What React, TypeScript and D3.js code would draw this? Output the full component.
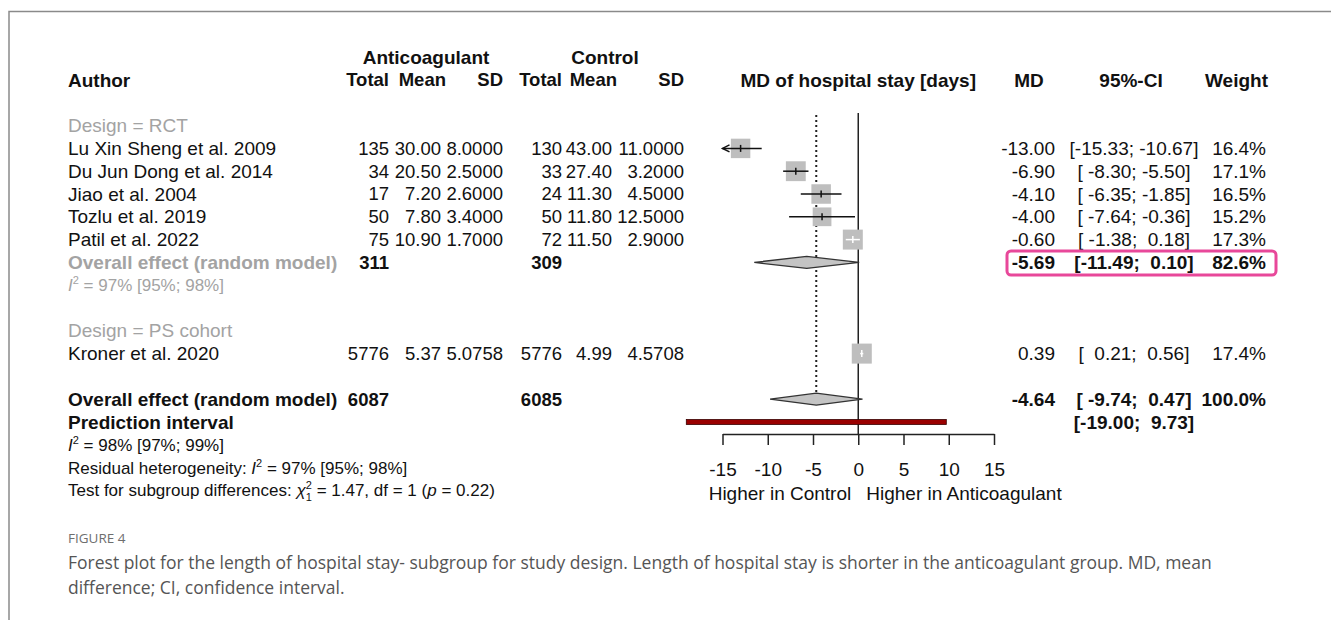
import React, { useRef, useEffect } from 'react';
import * as d3 from 'd3';

// study level data
const studies = [
  'Lu Xin Sheng et al. 2009',
  'Du Jun Dong et al. 2014',
  'Jiao et al. 2004',
  'Tozlu et al. 2019',
  'Patil et al. 2022',
  'Kroner et al. 2020'
];
const studyRows = [3, 4, 5, 6, 7, 12];
const antTotal = [135, 34, 17, 50, 75, 5776];
const antMean = [30.0, 20.5, 7.2, 7.8, 10.9, 5.37];
const antSD = [8.0, 2.5, 2.6, 3.4, 1.7, 5.0758];
const ctlTotal = [130, 33, 24, 50, 72, 5776];
const ctlMean = [43.0, 27.4, 11.3, 11.8, 11.5, 4.99];
const ctlSD = [11.0, 3.2, 4.5, 12.5, 2.9, 4.5708];
const md = [-13.0, -6.9, -4.1, -4.0, -0.6, 0.39];
const ciLow = [-15.33, -8.3, -6.35, -7.64, -1.38, 0.21];
const ciHigh = [-10.67, -5.5, -1.85, -0.36, 0.18, 0.56];
const weight = [16.4, 17.1, 16.5, 15.2, 17.3, 17.4];

// pooled estimates (RCT subgroup, overall)
const pooledRows = [8, 14];
const pooledAntTotal = [311, 6087];
const pooledCtlTotal = [309, 6085];
const pooledMd = [-5.69, -4.64];
const pooledLow = [-11.49, -9.74];
const pooledHigh = [0.1, 0.47];
const pooledWeight = [82.6, 100.0];
const predInterval = [-19.0, 9.73];
const axisTicks = [-15, -10, -5, 0, 5, 10, 15];

const FONT = '"Liberation Sans", Arial, sans-serif';
const GRAY = '#a3a3a3';
const colX = [389, 441, 503, 562, 612, 684];
const TBL = 18.5; // numeric table font size

const fmtCI = (lo: number, hi: number) =>
  '[' + lo.toFixed(2).padStart(6, ' ') + '; ' + hi.toFixed(2).padStart(5, ' ') + ']';

const I2 = ({ x, y, rest, fill }: { x: number; y: number; rest: string; fill: string }) => (
  <text x={x} y={y} dy="0.35em" fontSize={17} fill={fill} xmlSpace="preserve">
    <tspan fontStyle="italic">I</tspan>
    <tspan dy={-7} fontSize={11}>2</tspan>
    <tspan dy={7}>{rest}</tspan>
  </text>
);

export default function App() {
  const axisRef = useRef<SVGGElement>(null);

  const x = d3.scaleLinear().domain([-15, 15]).range([722.5, 994]);
  const y = d3.scaleLinear().domain([0, 18]).range([80, 490.4]);
  const axisY = 434;

  useEffect(() => {
    if (axisRef.current) {
      const g = d3.select(axisRef.current);
      g.selectAll('*').remove();
      g.call(
        d3.axisBottom(x).tickValues(axisTicks).tickSize(11).tickSizeOuter(0).tickPadding(18).tickFormat(d3.format('d'))
      );
      g.select('.domain').attr('stroke', '#222').attr('stroke-width', 1.5);
      g.selectAll('.tick line').attr('stroke', '#222').attr('stroke-width', 1.5);
      g.selectAll('.tick text')
        .attr('font-size', 19)
        .attr('font-family', FONT)
        .attr('fill', '#111')
        .text((d: any) => (d < 0 ? '-' + Math.abs(d) : String(d)));
    }
  }, []);

  const sq = (w: number) => 4.8 * Math.sqrt(w);

  return (
    <svg
      width={1331}
      height={620}
      style={{ position: 'absolute', left: 0, top: 0, background: '#fff' }}
      fontFamily={FONT}
    >
      {/* frame */}
      <path d="M9,620 V11.5 H1331" fill="none" stroke="#8a8a8a" strokeWidth={1.5} />

      {/* header */}
      <g fontWeight="bold" fontSize={19} fill="#111">
        <text x={426} y={57} dy="0.35em" textAnchor="middle">Anticoagulant</text>
        <text x={605} y={57} dy="0.35em" textAnchor="middle">Control</text>
        <text x={68} y={y(0)} dy="0.35em">Author</text>
        {['Total', 'Mean', 'SD', 'Total', 'Mean', 'SD'].map((t, i) => (
          <text key={i} x={colX[i] + (i === 1 || i === 4 ? 5 : 0)} y={y(0)} dy="0.35em" textAnchor="end" fontSize={TBL}>{t}</text>
        ))}
        <text x={x(0)} y={y(0)} dy="0.35em" textAnchor="middle">MD of hospital stay [days]</text>
        <text x={1029} y={y(0)} dy="0.35em" textAnchor="middle">MD</text>
        <text x={1131} y={y(0)} dy="0.35em" textAnchor="middle">95%-CI</text>
        <text x={1268} y={y(0)} dy="0.35em" textAnchor="end">Weight</text>
      </g>

      {/* subgroup labels */}
      <g fontSize={19} fill={GRAY}>
        <text x={68} y={y(2)} dy="0.35em">Design = RCT</text>
        <text x={68} y={y(11)} dy="0.35em">Design = PS cohort</text>
      </g>

      {/* study rows */}
      <g fontSize={19} fill="#111">
        {studies.map((s, i) => {
          const cy = y(studyRows[i]);
          const cells = [
            String(antTotal[i]),
            antMean[i].toFixed(2),
            antSD[i].toFixed(4),
            String(ctlTotal[i]),
            ctlMean[i].toFixed(2),
            ctlSD[i].toFixed(4)
          ];
          return (
            <g key={s}>
              <text x={68} y={cy} dy="0.35em">{s}</text>
              {cells.map((c, j) => (
                <text key={j} x={colX[j]} y={cy} dy="0.35em" textAnchor="end" fontSize={TBL}>{c}</text>
              ))}
              <text x={1055} y={cy} dy="0.35em" textAnchor="end">{md[i].toFixed(2)}</text>
              <text x={1134} y={cy} dy="0.35em" textAnchor="middle" xmlSpace="preserve">{fmtCI(ciLow[i], ciHigh[i])}</text>
              <text x={1266} y={cy} dy="0.35em" textAnchor="end">{weight[i].toFixed(1) + '%'}</text>
            </g>
          );
        })}
      </g>

      {/* pooled rows */}
      <g fontSize={19} fontWeight="bold">
        {pooledRows.map((r, i) => {
          const cy = y(r);
          return (
            <g key={r}>
              <text x={68} y={cy} dy="0.35em" fill={i === 0 ? GRAY : '#111'}>Overall effect (random model)</text>
              <text x={colX[0]} y={cy} dy="0.35em" textAnchor="end" fill="#111" fontSize={TBL}>{pooledAntTotal[i]}</text>
              <text x={colX[3]} y={cy} dy="0.35em" textAnchor="end" fill="#111" fontSize={TBL}>{pooledCtlTotal[i]}</text>
              <text x={1055} y={cy} dy="0.35em" textAnchor="end" fill="#111">{pooledMd[i].toFixed(2)}</text>
              <text x={1134} y={cy} dy="0.35em" textAnchor="middle" fill="#111" xmlSpace="preserve">{fmtCI(pooledLow[i], pooledHigh[i])}</text>
              <text x={1266} y={cy} dy="0.35em" textAnchor="end" fill="#111">{pooledWeight[i].toFixed(1) + '%'}</text>
            </g>
          );
        })}
        <text x={68} y={y(15)} dy="0.35em" fill="#111">Prediction interval</text>
        <text x={1134} y={y(15)} dy="0.35em" textAnchor="middle" fill="#111" xmlSpace="preserve">{fmtCI(predInterval[0], predInterval[1])}</text>
      </g>

      {/* heterogeneity */}
      <I2 x={68} y={y(9)} rest=" = 97% [95%; 98%]" fill={GRAY} />
      <I2 x={68} y={y(16)} rest=" = 98% [97%; 99%]" fill="#111" />
      <text x={68} y={y(17)} dy="0.35em" fontSize={17} fill="#111" xmlSpace="preserve">
        Residual heterogeneity: <tspan fontStyle="italic">I</tspan>
        <tspan dy={-7} fontSize={11}>2</tspan>
        <tspan dy={7}> = 97% [95%; 98%]</tspan>
      </text>
      <text x={68} y={y(18)} dy="0.35em" fontSize={17} fill="#111" xmlSpace="preserve">
        Test for subgroup differences: <tspan fontStyle="italic">χ</tspan>
        <tspan dy={-7} fontSize={11}>2</tspan>
        <tspan dx={-6} dy={12} fontSize={11}>1</tspan>
        <tspan dy={-5}> = 1.47, df = 1 (</tspan>
        <tspan fontStyle="italic">p</tspan>
        <tspan> = 0.22)</tspan>
      </text>

      {/* reference lines */}
      <line x1={x(0)} x2={x(0)} y1={113} y2={axisY} stroke="#222" strokeWidth={1.5} />
      <line
        x1={x(pooledMd[1])}
        x2={x(pooledMd[1])}
        y1={115}
        y2={y(14) - 6}
        stroke="#222"
        strokeWidth={2}
        strokeDasharray="2,3"
      />

      {/* study squares and CIs */}
      {studies.map((s, i) => {
        const cy = y(studyRows[i]);
        const size = sq(weight[i]);
        const cx = x(md[i]);
        const lo = Math.max(ciLow[i], -15);
        const hi = Math.min(ciHigh[i], 15);
        const inside = x(ciLow[i]) > cx - size / 2 && x(ciHigh[i]) < cx + size / 2;
        const lc = inside ? '#fff' : '#111';
        return (
          <g key={s}>
            <rect x={cx - size / 2} y={cy - size / 2} width={size} height={size} fill="#bebebe" />
            <line x1={x(lo)} x2={x(hi)} y1={cy} y2={cy} stroke={lc} strokeWidth={1.5} />
            <line x1={cx} x2={cx} y1={cy - 3.5} y2={cy + 3.5} stroke={lc} strokeWidth={1.5} />
            {ciLow[i] < -15 && (
              <path
                d={`M${x(lo) + 7},${cy - 3.5} L${x(lo)},${cy} L${x(lo) + 7},${cy + 3.5}`}
                fill="none"
                stroke="#111"
                strokeWidth={1.5}
              />
            )}
          </g>
        );
      })}

      {/* pooled diamonds */}
      {pooledRows.map((r, i) => {
        const cy = y(r);
        const pts = [
          [x(pooledLow[i]), cy],
          [x(pooledMd[i]), cy - 6],
          [x(pooledHigh[i]), cy],
          [x(pooledMd[i]), cy + 6]
        ];
        return (
          <polygon
            key={r}
            points={pts.map((p) => p.join(',')).join(' ')}
            fill="#c4c4c4"
            stroke="#333"
            strokeWidth={1.3}
          />
        );
      })}

      {/* prediction interval */}
      <rect
        x={x(predInterval[0])}
        y={y(15) - 2.5}
        width={x(predInterval[1]) - x(predInterval[0])}
        height={5}
        fill="#9a0000"
        stroke="#3a0000"
        strokeWidth={0.8}
      />

      {/* axis */}
      <g ref={axisRef} transform={`translate(0,${axisY})`} />
      <g fontSize={19} fill="#111">
        <text x={x(0) - 7} y={493} dy="0.35em" textAnchor="end">Higher in Control</text>
        <text x={x(0) + 8} y={493} dy="0.35em">Higher in Anticoagulant</text>
      </g>

      {/* highlight box */}
      <rect x={1007} y={251} width={269} height={24} rx={4} fill="none" stroke="#e8489a" strokeWidth={3} />

      {/* caption */}
      <text x={68} y={538} dy="0.35em" fontSize={13.5} fill="#6e6e6e" fontFamily='"Open Sans", sans-serif'>FIGURE 4</text>
      <g fontSize={17.5} fill="#555" fontFamily='"Open Sans", sans-serif'>
        <text x={68} y={563} dy="0.35em">
          Forest plot for the length of hospital stay- subgroup for study design. Length of hospital stay is shorter in the anticoagulant group. MD, mean
        </text>
        <text x={68} y={588} dy="0.35em">difference; CI, confidence interval.</text>
      </g>
    </svg>
  );
}
